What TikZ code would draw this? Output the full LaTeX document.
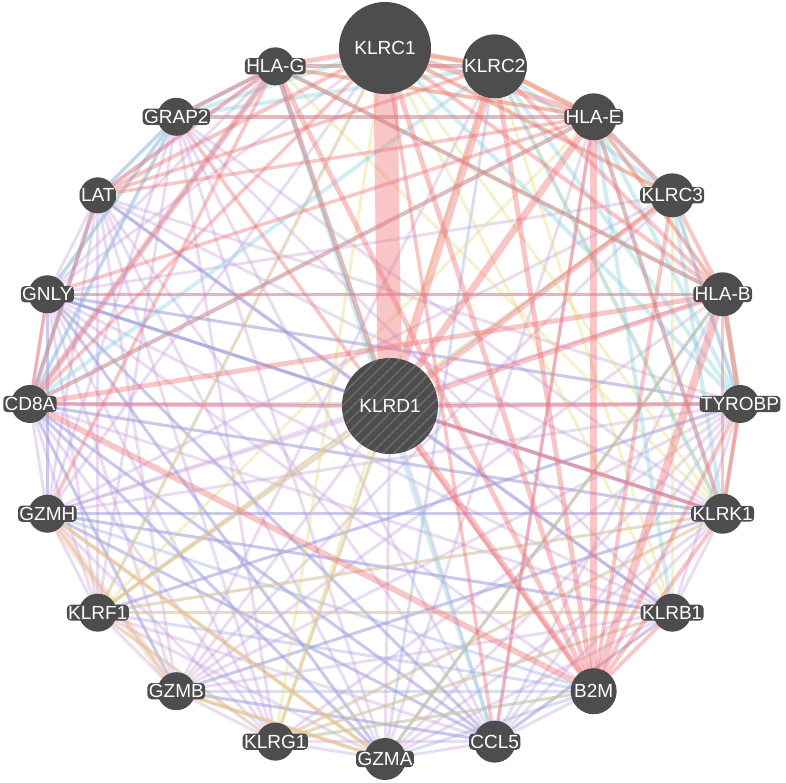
\documentclass[tikz,border=0pt]{standalone}
\usepackage{fontspec}
\setmainfont{Liberation Sans}
\pgfdeclarelayer{background}
\pgfsetlayers{background,main}
\definecolor{ngray}{RGB}{77,77,77}
\definecolor{cred}{RGB}{238,118,122}
\definecolor{cpur}{RGB}{196,160,218}
\definecolor{cblu}{RGB}{146,166,226}
\definecolor{ccya}{RGB}{128,206,222}
\definecolor{cyel}{RGB}{228,216,120}
\definecolor{cora}{RGB}{244,190,130}
\tikzset{
  gnode/.style={circle, fill=ngray, draw=none, inner sep=0pt},
  glabel/.style={fill=ngray, text=white, rounded corners=4pt, inner sep=1.4pt, font=\fontsize{19}{19}\selectfont},
  edge/.style={line cap=round, draw opacity=0.36},
  redge/.style={edge, draw=cred, draw opacity=0.42},
  pedge/.style={edge, draw=cpur, line width=3pt},
  bedge/.style={edge, draw=cblu, line width=3pt},
  cedge/.style={edge, draw=ccya, line width=4pt},
  yedge/.style={edge, draw=cyel, line width=3pt},
  oedge/.style={edge, draw=cora}
}
\newcommand\gene[4]{\node[gnode, minimum size=#3pt] (#1) at #2 {};\node[glabel] (l#1) at (#1) {#4};}
\begin{document}
\begin{tikzpicture}[x=1pt,y=1pt]
\useasboundingbox (-385,-379) rectangle (401,404);
\gene{KLRC1}{(90:356)}{92}{KLRC1}
\gene{KLRC2}{(72:355)}{64}{KLRC2}
\gene{HLAE}{(54:355)}{47}{HLA-E}
\gene{KLRC3}{(36:355)}{44}{KLRC3}
\gene{HLAB}{(18:355)}{44}{HLA-B}
\gene{TYROBP}{(0:355)}{38}{TYROBP}
\gene{KLRK1}{(-18:355)}{40}{KLRK1}
\gene{KLRB1}{(-36:355)}{38}{KLRB1}
\gene{B2M}{(-54:355)}{46}{B2M}
\gene{CCL5}{(-72:355)}{42}{CCL5}
\gene{GZMA}{(-90:355)}{42}{GZMA}
\gene{KLRG1}{(-108:355)}{38}{KLRG1}
\gene{GZMB}{(-126:355)}{38}{GZMB}
\gene{KLRF1}{(-144:355)}{38}{KLRF1}
\gene{GZMH}{(-162:355)}{38}{GZMH}
\gene{CD8A}{(180:355)}{38}{CD8A}
\gene{GNLY}{(162:355)}{38}{GNLY}
\gene{LAT}{(144:355)}{36}{LAT}
\gene{GRAP2}{(126:355)}{38}{GRAP2}
\gene{HLAG}{(108:355)}{38}{HLA-G}
\node[gnode, minimum size=96pt,
  path picture={\foreach \i in {-70,-59,...,70}
    \draw[gray!65!ngray, line width=1.3pt] ([xshift=\i pt]path picture bounding box.center) ++(-60pt,-60pt) -- ++(120pt,120pt);}]
  (KLRD1) at (5,-2) {};
\node[text=white, font=\fontsize{19}{19}\selectfont] (lKLRD1) at (KLRD1) {KLRD1};
\begin{pgfonlayer}{background}
% co-expression (purple)
\foreach \a/\b in {GZMH/GZMB,GZMH/GZMA,GZMH/GNLY,GZMH/CCL5,GZMH/KLRG1,GZMH/KLRF1,GZMH/CD8A,GZMH/KLRD1,GZMH/KLRB1,GZMH/KLRK1,GZMH/TYROBP,GZMH/KLRC3,GZMH/HLAB,GZMH/LAT,GZMH/GRAP2,GZMH/KLRC1,
GZMB/GZMA,GZMB/GNLY,GZMB/CCL5,GZMB/KLRG1,GZMB/KLRF1,GZMB/CD8A,GZMB/KLRD1,GZMB/KLRB1,GZMB/KLRK1,GZMB/TYROBP,GZMB/KLRC3,GZMB/HLAB,GZMB/LAT,GZMB/KLRC2,
GZMA/GNLY,GZMA/CCL5,GZMA/KLRG1,GZMA/KLRF1,GZMA/CD8A,GZMA/KLRD1,GZMA/KLRB1,GZMA/KLRK1,GZMA/TYROBP,GZMA/HLAB,GZMA/LAT,GZMA/GRAP2,GZMA/HLAE,
GNLY/CCL5,GNLY/KLRG1,GNLY/KLRF1,GNLY/CD8A,GNLY/KLRD1,GNLY/KLRB1,GNLY/KLRK1,GNLY/TYROBP,GNLY/KLRC3,GNLY/HLAB,GNLY/LAT,GNLY/GRAP2,GNLY/B2M,GNLY/KLRC1,
CCL5/KLRG1,CCL5/KLRF1,CCL5/CD8A,CCL5/KLRD1,CCL5/KLRB1,CCL5/KLRK1,CCL5/TYROBP,CCL5/HLAB,CCL5/LAT,CCL5/GRAP2,CCL5/B2M,CCL5/HLAE,
KLRG1/KLRF1,KLRG1/CD8A,KLRG1/KLRD1,KLRG1/KLRB1,KLRG1/KLRK1,KLRG1/TYROBP,KLRG1/LAT,KLRG1/GRAP2,
KLRF1/CD8A,KLRF1/KLRD1,KLRF1/KLRB1,KLRF1/KLRK1,KLRF1/TYROBP,KLRF1/KLRC3,KLRF1/LAT,KLRF1/GRAP2,KLRF1/KLRC1,
CD8A/KLRD1,CD8A/KLRB1,CD8A/KLRK1,CD8A/TYROBP,CD8A/LAT,CD8A/GRAP2,
KLRB1/KLRK1,KLRB1/TYROBP,KLRB1/KLRD1,KLRB1/LAT,KLRB1/GRAP2,
KLRK1/TYROBP,KLRK1/KLRD1,KLRK1/LAT,KLRK1/GRAP2,TYROBP/KLRD1,TYROBP/KLRC3,TYROBP/LAT,LAT/GRAP2,LAT/KLRD1,GRAP2/HLAG,GNLY/HLAG,LAT/HLAG}
  \draw[pedge] (\a) -- (\b);
% co-localization (blue)
\foreach \a/\b in {GZMH/GNLY,GZMH/CCL5,GZMB/CCL5,GZMA/GNLY,GNLY/TYROBP,CD8A/KLRK1,GZMH/KLRB1,KLRF1/B2M,GZMA/HLAB,GZMB/B2M,GZMH/B2M,CD8A/CCL5,GNLY/KLRK1,KLRG1/B2M,GZMA/B2M,CCL5/KLRB1,GNLY/CCL5,CD8A/GZMB,CD8A/GZMA,GZMH/KLRK1,LAT/KLRB1,GNLY/KLRD1,GZMA/KLRC2,KLRF1/TYROBP,GZMB/KLRK1,CD8A/HLAG}
  \draw[bedge] (\a) -- (\b);
% shared protein domains (yellow)
\foreach \a/\b in {KLRC1/KLRC2,KLRC1/KLRC3,KLRC1/KLRK1,KLRC1/KLRB1,KLRC1/KLRF1,KLRC1/KLRG1,KLRC2/KLRK1,KLRC2/KLRB1,KLRC3/KLRB1,KLRC3/KLRF1,KLRK1/KLRF1,KLRK1/KLRG1,KLRB1/KLRF1,KLRB1/KLRG1,KLRF1/KLRG1,KLRD1/KLRF1,KLRD1/KLRG1,HLAG/HLAE,HLAG/HLAB,HLAE/HLAB,GZMA/GZMB,GZMH/GZMA,HLAB/GZMA,HLAG/KLRK1,B2M/KLRG1,KLRC2/KLRG1,HLAE/KLRF1,KLRC2/HLAE}
  \draw[yedge] (\a) -- (\b);
% pathway (cyan)
\foreach \a/\b in {HLAG/GRAP2,GRAP2/LAT,GRAP2/HLAE,GRAP2/KLRC2,LAT/CD8A,GRAP2/CD8A,HLAE/TYROBP,HLAE/KLRK1,KLRC2/TYROBP,KLRC2/KLRK1,KLRC1/TYROBP,HLAB/TYROBP,KLRC3/TYROBP,KLRC3/KLRK1,HLAG/KLRD1,HLAG/HLAB,CD8A/HLAE,CD8A/KLRC2,HLAG/KLRC2,HLAE/KLRC3,KLRC2/KLRC3,HLAE/KLRB1,GNLY/GRAP2,HLAG/CCL5,KLRC1/GRAP2}
  \draw[cedge] (\a) -- (\b);
% predicted (orange)
\foreach \a/\b/\w in {GZMH/GZMB/8,GZMH/GZMA/4,GZMB/GZMA/4,HLAB/TYROBP/5,KLRK1/TYROBP/4,KLRC2/HLAE/4,KLRC1/KLRC2/4}
  \draw[oedge, line width=\w pt] (\a) -- (\b);
% physical interactions (red)
\foreach \a/\b/\w in {KLRC1/KLRD1/24,KLRC1/HLAE/6,KLRC1/HLAG/5,KLRC1/B2M/5,KLRC1/HLAB/4,KLRC1/KLRC2/5,KLRC1/KLRC3/4,KLRC1/CD8A/3.5,KLRC1/LAT/4,
KLRC2/KLRD1/8,KLRC2/HLAE/5,KLRC2/B2M/5,KLRC2/HLAB/4,KLRC2/HLAG/4,
HLAE/KLRD1/7,HLAE/B2M/7,HLAE/HLAB/4,HLAE/HLAG/4,HLAE/CD8A/4,HLAE/KLRK1/4,HLAE/KLRC3/5,HLAE/GRAP2/3.5,HLAE/LAT/3.5,
HLAB/B2M/8,HLAB/KLRD1/5,HLAB/CD8A/5,HLAB/HLAG/4,HLAB/KLRK1/3.5,HLAB/GNLY/3.5,
HLAG/B2M/5,HLAG/KLRD1/5,HLAG/CD8A/6,HLAG/GRAP2/4,HLAG/LAT/4,HLAG/GZMH/3.5,
KLRD1/B2M/6,KLRD1/TYROBP/4,KLRD1/KLRK1/4,KLRD1/KLRC3/5,KLRD1/CD8A/4,
CD8A/B2M/6,CD8A/LAT/4,CD8A/GNLY/3.5,KLRC3/B2M/4,KLRK1/TYROBP/4,KLRK1/B2M/4,TYROBP/B2M/4,TYROBP/HLAB/5,KLRB1/B2M/4,GRAP2/B2M/3.5,LAT/KLRC2/3.5,GNLY/HLAE/3.5,KLRC3/HLAB/4,KLRC1/CCL5/3.5,HLAE/CCL5/3.5}
  \draw[redge, line width=\w pt] (\a) -- (\b);
\end{pgfonlayer}
\end{tikzpicture}
\end{document}
